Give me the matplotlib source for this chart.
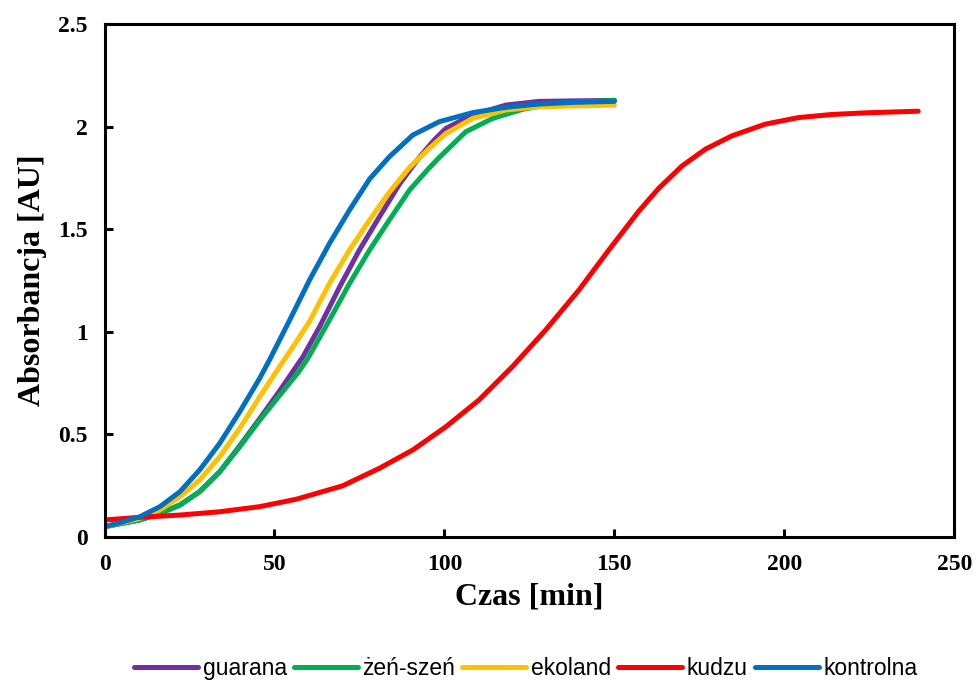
import matplotlib
matplotlib.use("Agg")
import matplotlib.pyplot as plt

# odczyty z wykresu: czas [min] i absorbancja [AU]
czas_guarana = [0, 10.4, 16.3, 22.2, 28.0, 33.9, 39.8, 45.7, 51.5, 58.4, 63.3, 69.2, 75.0,
                80.9, 86.8, 92.6, 97.0, 100.5, 108.3, 118.1, 127.9, 150]
guarana = [0.05, 0.083, 0.115, 0.156, 0.221, 0.318, 0.445, 0.578, 0.712, 0.879, 1.025, 1.22,
           1.399, 1.561, 1.72, 1.85, 1.935, 1.992, 2.057, 2.105, 2.123, 2.128]

czas_zen_szen = [0, 10.4, 16.3, 22.2, 28.0, 33.9, 39.8, 45.7, 51.5, 56.9, 59.8, 66.2, 72.1,
                 78.0, 83.8, 89.7, 95.6, 98.5, 106.3, 114.2, 123, 132.8, 150]
zen_szen = [0.05, 0.083, 0.115, 0.156, 0.221, 0.318, 0.440, 0.570, 0.69, 0.80, 0.87, 1.058,
            1.236, 1.399, 1.545, 1.69, 1.80, 1.85, 1.975, 2.04, 2.084, 2.113, 2.128]

czas_ekoland = [0, 10.4, 16.3, 22.2, 28.0, 33.9, 39.8, 45.7, 51.5, 56.4, 60.3, 66.2, 72.1,
                78.0, 83.8, 89.7, 95.6, 100.5, 108.3, 118.1, 127.9, 150]
ekoland = [0.05, 0.091, 0.132, 0.196, 0.278, 0.391, 0.530, 0.684, 0.83, 0.95, 1.05, 1.236,
           1.399, 1.545, 1.68, 1.80, 1.895, 1.967, 2.04, 2.081, 2.097, 2.105]

czas_kudzu = [0, 10.4, 22.2, 33.9, 45.7, 56.4, 70, 80.9, 90.7, 100.5, 110.2, 120, 129.8,
              139.6, 148.4, 157.2, 163.1, 169.9, 176.8, 184.6, 194.4, 204.2, 214, 223.8, 239.4]
kudzu = [0.083, 0.096, 0.107, 0.123, 0.148, 0.184, 0.249, 0.335, 0.424, 0.538, 0.668, 0.830,
         1.009, 1.204, 1.399, 1.588, 1.70, 1.808, 1.89, 1.955, 2.012, 2.044, 2.059, 2.067, 2.075]

czas_kontrolna = [0, 4.6, 10.4, 16.3, 22.2, 28.0, 33.9, 39.8, 45.7, 48.6, 54.5, 60.3, 66.2,
                  72.1, 78.0, 83.8, 90.7, 98.5, 108.3, 118.1, 127.9, 137.6, 150]
kontrolna = [0.05, 0.070, 0.099, 0.148, 0.221, 0.327, 0.457, 0.611, 0.775, 0.865, 1.058, 1.252,
             1.431, 1.594, 1.745, 1.853, 1.959, 2.024, 2.068, 2.094, 2.110, 2.118, 2.123]

fig = plt.figure(figsize=(9.77, 6.8), dpi=100)
ax = fig.add_axes([0.107, 0.2103, 0.8697, 0.7544])

lw = 3.6
ax.plot(czas_guarana, guarana, color="#7030A0", lw=lw, label="guarana", solid_capstyle="round")
ax.plot(czas_zen_szen, zen_szen, color="#00B050", lw=lw, label="żeń-szeń", solid_capstyle="round")
ax.plot(czas_ekoland, ekoland, color="#FFC000", lw=lw, label="ekoland", solid_capstyle="round")
ax.plot(czas_kudzu, kudzu, color="#FF0000", lw=lw, label="kudzu", solid_capstyle="round")
ax.plot(czas_kontrolna, kontrolna, color="#0070C0", lw=lw, label="kontrolna", solid_capstyle="round")

ax.set_xlim(0, 250)
ax.set_ylim(0, 2.5)
ax.set_xticks([0, 50, 100, 150, 200, 250])
ax.set_yticks([0, 0.5, 1, 1.5, 2, 2.5])
ax.set_yticklabels(["0", "0.5", "1", "1.5", "2", "2.5"])

for s in ax.spines.values():
    s.set_linewidth(2.2)
ax.tick_params(direction="in", length=6, width=2.2, pad=12)
for lab in ax.get_xticklabels() + ax.get_yticklabels():
    lab.set_fontfamily("Liberation Serif")
    lab.set_fontweight("bold")
    lab.set_fontsize(17)

ax.set_xlabel("Czas [min]", family="Liberation Serif", weight="bold", fontsize=23, labelpad=6)
ax.set_ylabel("Absorbancja [AU]", family="Liberation Serif", weight="bold", fontsize=23, labelpad=8)

fig.legend(loc="lower center", bbox_to_anchor=(0.538, -0.03), ncol=5, frameon=False,
           prop={"family": "Liberation Sans", "size": 16.5}, handlelength=2.8,
           handletextpad=0.2, columnspacing=0.3)

fig.savefig("out.png", dpi=100)
